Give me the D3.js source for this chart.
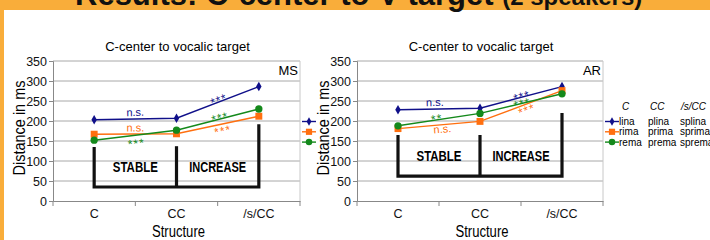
<!DOCTYPE html>
<html>
<head>
<meta charset="utf-8">
<script src="https://cdn.jsdelivr.net/npm/d3@7"></script>
<style>
  body { margin: 0; background: #fff; }
  svg { display: block; font-family: "Liberation Sans", Arial, sans-serif; }
</style>
</head>
<body>
<svg id="chart" width="710" height="240"></svg>
<script>
// Data
let structures = ['C', 'CC', '/s/CC'];
let seriesNames = ['lina', 'rima', 'rema'];
let legendHeader = ['C', 'CC', '/s/CC'];
let legendWords = [
    ['lina', 'plina', 'splina'],
    ['rima', 'prima', 'sprima'],
    ['rema', 'prema', 'sprema']
];
let yTicks = [0, 50, 100, 150, 200, 250, 300, 350];

// speaker MS (ms)
let msLina = [203, 207, 286];
let msRima = [167, 168, 212];
let msRema = [152, 177, 230];
// speaker AR (ms)
let arLina = [228, 232, 286];
let arRima = [181, 199, 276];
let arRema = [188, 219, 268];

// significance labels: series index, segment index, text
let msMarks = [
    [0, 0, 'n.s.'], [1, 0, 'n.s.'], [2, 0, '***'],
    [0, 1, '***'], [2, 1, '***'], [1, 1, '***']
];
let arMarks = [
    [0, 0, 'n.s.'], [2, 0, '**'], [1, 0, 'n.s.'],
    [0, 1, '***'], [2, 1, '***'], [1, 1, '***']
];

// bracket: bottom value and top value of each vertical, in ms
let msBracket = { bottom: 35, tops: [135, 137, 192] };
let arBracket = { bottom: 62, tops: [165, 165, 220] };
let bracketLabels = ['STABLE', 'INCREASE'];

let colors = ['#10108a', '#ff6f0f', '#14891b'];

let svg = d3.select('#chart');

// slide frame
svg.append('rect').attr('width', 710).attr('height', 10).attr('fill', '#f9ad3a');
svg.append('rect').attr('width', 4).attr('height', 240).attr('fill', '#f9ad3a');
let head = svg.append('text').attr('x', 75).attr('y', 5)
    .attr('font-weight', 'bold').attr('font-size', 31).attr('fill', '#111');
head.append('tspan').text('Results: C-center to V target ');
head.append('tspan').attr('font-size', 24).text('(2 speakers)');

// clip for the first chart's legend, which the second chart covers
svg.append('defs').append('clipPath').attr('id', 'leftclip')
    .append('rect').attr('x', 0).attr('y', 0).attr('width', 308).attr('height', 240);

// label offsets: [perpendicular offset, shift along segment]
let msMarkPos = [[-6, 0], [-5.5, 0], [5, 0], [-5, 2], [-4.4, 2.6], [3.4, 3.8]];
let arMarkPos = [[-6, -4], [-4.5, -2], [5, 3], [-4, 1], [-3, 1], [2.5, 4]];

let drawChart = (g, opt) => {
    let y = d3.scaleLinear().domain([0, 350]).range([201, 61]);
    let x = d3.scaleBand().domain(structures).range([opt.left, opt.right]);
    let cx = (d) => x(d) + x.bandwidth() / 2;

    // grid
    g.selectAll('.grid')
        .data(yTicks.filter((d) => d > 0))
        .enter()
        .append('line')
        .attr('x1', opt.left).attr('x2', opt.right)
        .attr('y1', (d) => y(d)).attr('y2', (d) => y(d))
        .attr('stroke', '#a8a8a8').attr('stroke-width', 1);
    g.append('line')
        .attr('x1', opt.right).attr('x2', opt.right)
        .attr('y1', y(350)).attr('y2', y(0))
        .attr('stroke', '#c8c8c8');

    // y axis
    let ya = g.append('g')
        .attr('transform', `translate(${opt.left},0)`)
        .call(d3.axisLeft(y).tickValues(yTicks).tickSize(4).tickPadding(2));
    ya.select('.domain').attr('stroke', '#888');
    ya.selectAll('.tick line').attr('stroke', '#888');
    ya.selectAll('text').attr('font-size', 12.5).attr('fill', '#111')
        .attr('font-family', '"Liberation Sans", Arial, sans-serif');

    // x axis, ticks at band edges
    let xa = g.append('g')
        .attr('transform', `translate(0,${y(0)})`)
        .call(d3.axisBottom(x).tickSize(0).tickPadding(8));
    xa.select('.domain').attr('stroke', '#888');
    xa.selectAll('text').attr('font-size', 12.5).attr('fill', '#111')
        .attr('font-family', '"Liberation Sans", Arial, sans-serif');
    let edges = structures.map((d) => x(d)).concat([opt.right]);
    g.selectAll('.xedge')
        .data(edges)
        .enter()
        .append('line')
        .attr('x1', (d) => d).attr('x2', (d) => d)
        .attr('y1', y(0)).attr('y2', y(0) + 5)
        .attr('stroke', '#888');

    // titles
    g.append('text')
        .attr('x', (opt.left + opt.right) / 2 + 1).attr('y', 51)
        .attr('text-anchor', 'middle').attr('font-size', 13)
        .text('C-center to vocalic target');
    g.append('text')
        .attr('x', opt.right - 2).attr('y', 75)
        .attr('text-anchor', 'end').attr('font-size', 13)
        .text(opt.speaker);
    g.append('text')
        .attr('x', (opt.left + opt.right) / 2 + 2).attr('y', 237)
        .attr('text-anchor', 'middle').attr('font-size', 16)
        .attr('textLength', 53).attr('lengthAdjust', 'spacingAndGlyphs')
        .text('Structure');
    g.append('text')
        .attr('transform', `translate(${opt.left - 34},128) rotate(-90)`)
        .attr('dy', '0.35em')
        .attr('text-anchor', 'middle').attr('font-size', 17)
        .attr('textLength', 95).attr('lengthAdjust', 'spacingAndGlyphs')
        .text('Distance in ms');

    // bracket
    let br = opt.bracket;
    let bx = structures.map(cx);
    g.append('path')
        .attr('d', d3.line()([[bx[0], y(br.tops[0])], [bx[0], y(br.bottom)], [bx[2], y(br.bottom)], [bx[2], y(br.tops[2])]]))
        .attr('fill', 'none').attr('stroke', '#111').attr('stroke-width', 3.2);
    g.append('line')
        .attr('x1', bx[1]).attr('x2', bx[1])
        .attr('y1', y(br.tops[1])).attr('y2', y(br.bottom))
        .attr('stroke', '#111').attr('stroke-width', 3.2);
    let midY = (y(br.bottom) + y(Math.max(br.tops[0], br.tops[1]))) / 2;
    g.selectAll('.brlabel')
        .data(bracketLabels)
        .enter()
        .append('text')
        .attr('x', (d, i) => (bx[i] + bx[i + 1]) / 2)
        .attr('y', midY + 5)
        .attr('text-anchor', 'middle').attr('font-weight', 'bold').attr('font-size', 14)
        .attr('textLength', (d, i) => [45, 57][i]).attr('lengthAdjust', 'spacingAndGlyphs')
        .text((d) => d);

    // series
    let series = opt.series;
    let line = d3.line().x((d, i) => cx(structures[i])).y((d) => y(d));
    series.forEach((vals, s) => {
        g.append('path')
            .datum(vals)
            .attr('fill', 'none').attr('stroke', colors[s]).attr('stroke-width', 1.4)
            .attr('d', line);
    });
    let symbols = [d3.symbolDiamond, d3.symbolSquare, d3.symbolCircle];
    let sizes = [26, 48, 42];
    series.forEach((vals, s) => {
        g.selectAll('.pt' + s)
            .data(vals)
            .enter()
            .append('path')
            .attr('transform', (d, i) => `translate(${cx(structures[i])},${y(d)})`)
            .attr('d', d3.symbol().type(symbols[s]).size(sizes[s]))
            .attr('fill', colors[s]);
    });

    // significance labels
    opt.marks.forEach((m, k) => {
        let [s, seg, txt] = m;
        let [off, along] = opt.markPos[k];
        let x0 = cx(structures[seg]), x1 = cx(structures[seg + 1]);
        let y0 = y(series[s][seg]), y1 = y(series[s][seg + 1]);
        let a = Math.atan2(y1 - y0, x1 - x0);
        let px = (x0 + x1) / 2 - off * Math.sin(a) + along * Math.cos(a);
        let py = (y0 + y1) / 2 + off * Math.cos(a) + along * Math.sin(a);
        let stars = txt[0] === '*';
        let fs = stars ? 12 : 11;
        g.append('text')
            .attr('transform', `translate(${px},${py}) rotate(${a * 180 / Math.PI})`)
            .attr('y', stars ? fs * 0.62 : fs * 0.27)
            .attr('text-anchor', 'middle')
            .attr('font-size', fs)
            .attr('letter-spacing', stars ? 1 : 0)
            .attr('fill', colors[s])
            .text(txt);
    });

    // legend (texts only where they are visible)
    let lg = g.append('g').attr('transform', `translate(${opt.right},0)`);
    if (opt.clip) lg.attr('clip-path', `url(#${opt.clip})`);
    if (opt.legendText) {
        lg.selectAll('.lh')
            .data(legendHeader)
            .enter()
            .append('text')
            .attr('x', (d, i) => [19, 47, 78][i]).attr('y', 110)
            .attr('font-size', 10).attr('font-style', 'italic')
            .text((d) => d);
    }
    seriesNames.forEach((name, s) => {
        let ry = 121.5 + s * 10.3;
        lg.append('line')
            .attr('x1', 2).attr('x2', 16).attr('y1', ry).attr('y2', ry)
            .attr('stroke', colors[s]).attr('stroke-width', 1.4);
        lg.append('path')
            .attr('transform', `translate(9,${ry})`)
            .attr('d', d3.symbol().type(symbols[s]).size(sizes[s] * 0.8))
            .attr('fill', colors[s]);
        if (!opt.legendText) return;
        lg.selectAll('.lw' + s)
            .data(legendWords[s])
            .enter()
            .append('text')
            .attr('x', (d, i) => [16, 45, 77][i]).attr('y', ry + 3.5)
            .attr('font-size', 10)
            .text((d) => d);
    });
};

let leftG = svg.append('g');
drawChart(leftG, {
    left: 53, right: 300, speaker: 'MS',
    series: [msLina, msRima, msRema],
    marks: msMarks, markPos: msMarkPos, bracket: msBracket,
    legendText: false, clip: 'leftclip'
});

let rightG = svg.append('g');
drawChart(rightG, {
    left: 357, right: 603, speaker: 'AR',
    series: [arLina, arRima, arRema],
    marks: arMarks, markPos: arMarkPos, bracket: arBracket,
    legendText: true
});
</script>
</body>
</html>
